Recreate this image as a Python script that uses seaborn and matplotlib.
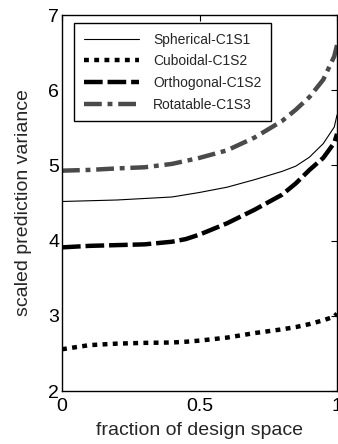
import matplotlib
matplotlib.use("Agg")
import matplotlib.pyplot as plt
import seaborn as sns
import pandas as pd

# values
frac = [0, 0.1, 0.2, 0.3, 0.4, 0.45, 0.5, 0.6, 0.7, 0.8, 0.85, 0.9, 0.95, 0.99, 1.0]

spherical = [4.52, 4.53, 4.54, 4.56, 4.58, 4.61, 4.64, 4.71, 4.81, 4.92, 4.99, 5.11, 5.29, 5.51, 5.67]
cuboidal = [2.555, 2.61, 2.63, 2.64, 2.645, 2.655, 2.67, 2.71, 2.77, 2.82, 2.85, 2.89, 2.94, 2.99, 3.03]
orthogonal = [3.91, 3.93, 3.94, 3.95, 3.985, 4.02, 4.08, 4.23, 4.41, 4.61, 4.76, 4.94, 5.10, 5.30, 5.42]
rotatable = [4.93, 4.94, 4.96, 4.975, 5.02, 5.06, 5.10, 5.20, 5.37, 5.59, 5.74, 5.91, 6.14, 6.45, 6.60]

labels = ["Spherical-C1S1", "Cuboidal-C1S2", "Orthogonal-C1S2", "Rotatable-C1S3"]

sns.set_style("white")
plt.rcParams["font.family"] = ["Liberation Sans", "DejaVu Sans"]

fig = plt.figure(figsize=(3.38, 4.44), dpi=100)
ax = fig.add_axes([62 / 338, 1 - 391 / 444, 275 / 338, 376 / 444])

sns.lineplot(x=frac, y=spherical, ax=ax, color="black", linewidth=0.8, label=labels[0])
sns.lineplot(x=frac, y=cuboidal, ax=ax, color="black", linewidth=3.2, label=labels[1])
ax.lines[-1].set_linestyle((0, (1.1, 1.2)))
sns.lineplot(x=frac, y=orthogonal, ax=ax, color="black", linewidth=3.2, label=labels[2])
ax.lines[-1].set_linestyle((0, (4.2, 1.1)))
sns.lineplot(x=frac, y=rotatable, ax=ax, color="#4a4a4a", linewidth=3.2, label=labels[3])
ax.lines[-1].set_linestyle((0, (4.0, 1.3, 1.1, 1.3)))
for ln in ax.lines:
    ln.set_dash_capstyle("butt")
    ln.set_solid_joinstyle("round")

ax.set_xlim(0, 1)
ax.set_ylim(2, 7)
ax.set_xticks([0, 0.5, 1])
ax.set_xticklabels(["0", "0.5", "1"])
ax.set_yticks([2, 3, 4, 5, 6, 7])
ax.tick_params(direction="in", length=4, width=0.8, top=True, right=True,
               labelsize=14, colors="black", pad=2)
ax.tick_params(axis="x", pad=5)
for s in ax.spines.values():
    s.set_color("black")
    s.set_linewidth(1.0)
ax.set_xlabel("fraction of design space", fontsize=14, labelpad=5)
ax.set_ylabel("scaled prediction variance", fontsize=14, labelpad=12)

leg = ax.legend(loc="upper left", bbox_to_anchor=(12 / 275, 1 - 8 / 376),
                borderaxespad=0, fontsize=10, frameon=True, fancybox=False,
                edgecolor="black", framealpha=1, handlelength=4.0,
                handletextpad=1.0, borderpad=0.7, labelspacing=0.55)
leg.get_frame().set_linewidth(1.0)

fig.savefig("out.png", dpi=100)
